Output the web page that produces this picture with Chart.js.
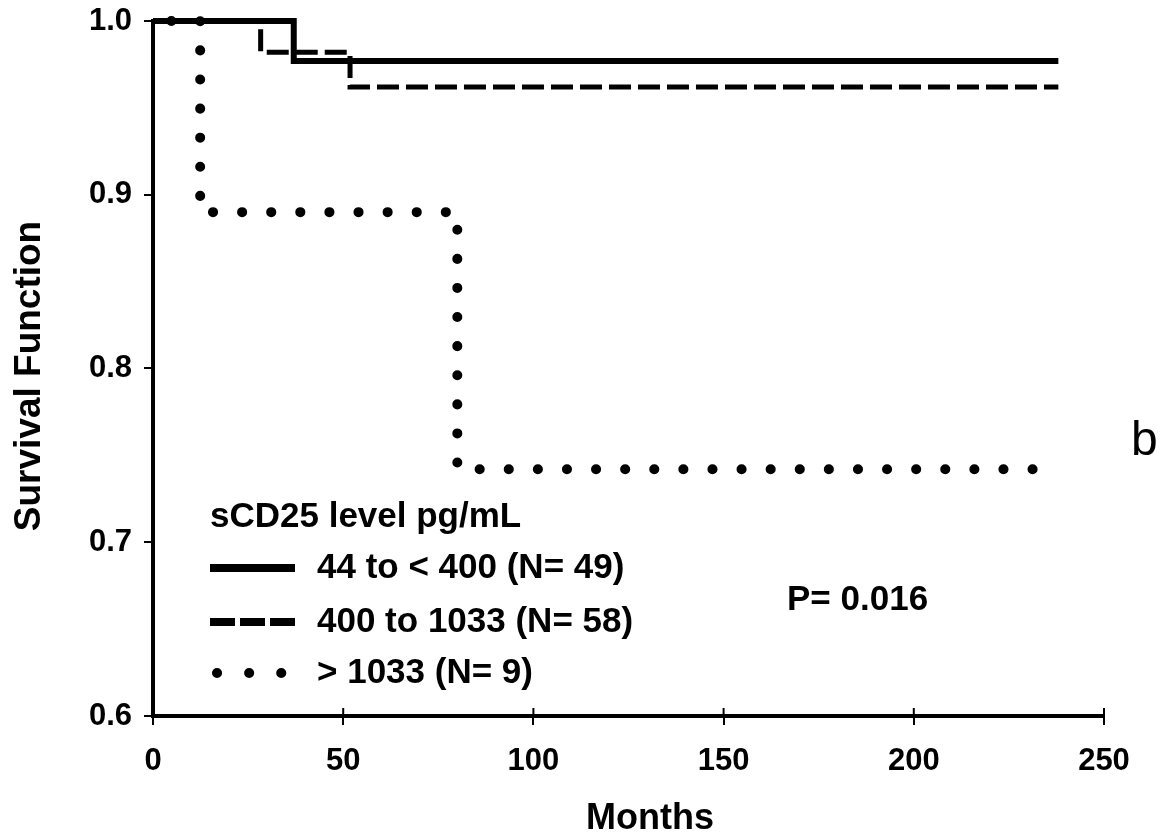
<!DOCTYPE html>
<html><head><meta charset="utf-8">
<script src="https://cdn.jsdelivr.net/npm/chart.js@4/dist/chart.umd.min.js"></script>
<style>html,body{margin:0;padding:0;background:#fff}#wrap{width:1168px;height:839px;position:relative}</style>
</head><body><div id="wrap"><canvas id="c" width="1168" height="839"></canvas></div>
<script>
const seriesNames = ['44 to < 400 (N= 49)', '400 to 1033 (N= 58)', '> 1033 (N= 9)'];
const lowMonths = [0, 37, 238];
const lowSurv = [1.0, 0.977, 0.977];
const midMonths = [0, 28.3, 51.8, 238];
const midSurv = [1.0, 0.982, 0.962, 0.962];
const highMonths = [0, 12.4, 80, 238];
const highSurv = [1.0, 0.890, 0.742, 0.742];
const xTicks = [0, 50, 100, 150, 200, 250];
const yTicks = [0.6, 0.7, 0.8, 0.9, 1.0];
const legendTitle = 'sCD25 level pg/mL';
const pValueText = 'P= 0.016';
const panelLabel = 'b';
const xTitle = 'Months';
const yTitle = 'Survival Function';

const FONT = '"Liberation Sans", Arial, sans-serif';
const pts = (xs, ys) => xs.map((x, i) => ({x: x, y: ys[i]}));

const overlay = {
  id: 'overlay',
  afterDraw(chart) {
    const ctx = chart.ctx;
    const xs = chart.scales.x, ys = chart.scales.y;
    ctx.save();
    // inner tick marks on x axis
    ctx.strokeStyle = '#000'; ctx.lineWidth = 2;
    const y0 = ys.getPixelForValue(0.6);
    xTicks.forEach(v => {
      const px = xs.getPixelForValue(v);
      ctx.beginPath(); ctx.moveTo(px, y0); ctx.lineTo(px, y0 - 8); ctx.stroke();
    });
    ctx.fillStyle = '#000';
    // axis titles
    ctx.font = 'bold 36px ' + FONT;
    ctx.textBaseline = 'middle';
    ctx.textAlign = 'center';
    ctx.fillText(xTitle, 650, 819);
    ctx.save();
    ctx.translate(30, 376);
    ctx.rotate(-Math.PI / 2);
    ctx.font = 'bold 37px ' + FONT;
    ctx.fillText(yTitle, 0, 0);
    ctx.restore();
    // legend
    ctx.font = 'bold 35px ' + FONT;
    ctx.textAlign = 'left';
    ctx.fillText(legendTitle, 210, 517);
    const rows = [568, 622, 673];
    const styles = [
      {w: 8, dash: [], cap: 'butt', x0: 210, x1: 295},
      {w: 8, dash: [25, 5], cap: 'butt', x0: 210, x1: 295},
      {w: 10, dash: [0.1, 32], cap: 'round', x0: 217, x1: 285}
    ];
    rows.forEach((ry, i) => {
      const s = styles[i];
      ctx.beginPath();
      ctx.lineWidth = s.w; ctx.setLineDash(s.dash); ctx.lineCap = s.cap;
      ctx.moveTo(s.x0, ry); ctx.lineTo(s.x1, ry); ctx.stroke();
      ctx.setLineDash([]);
      ctx.fillText(seriesNames[i], 317, ry);
    });
    ctx.fillText(pValueText, 787, 600);
    ctx.font = '48px ' + FONT;
    ctx.textBaseline = 'alphabetic';
    ctx.fillText(panelLabel, 1131, 455);
    ctx.restore();
  }
};

new Chart(document.getElementById('c'), {
  type: 'line',
  data: {
    datasets: [
      {label: seriesNames[0], data: pts(lowMonths, lowSurv), stepped: true,
       borderColor: '#000', borderWidth: 6, pointRadius: 0, clip: false},
      {label: seriesNames[1], data: pts(midMonths, midSurv), stepped: true,
       borderColor: '#000', borderWidth: 5, borderDash: [22, 7], pointRadius: 0, clip: false},
      {label: seriesNames[2], data: pts(highMonths, highSurv), stepped: true,
       borderColor: '#000', borderWidth: 10, borderDash: [0.1, 29], borderDashOffset: 10.8,
       borderCapStyle: 'round', pointRadius: 0, clip: false}
    ]
  },
  options: {
    responsive: false, animation: false, devicePixelRatio: 1,
    layout: {padding: {top: 21, right: 64, left: 0, bottom: 0}},
    plugins: {legend: {display: false}, tooltip: {enabled: false}},
    scales: {
      x: {
        type: 'linear', min: 0, max: 250,
        afterBuildTicks: s => { s.ticks = xTicks.map(v => ({value: v})); },
        afterFit: s => { s.height = 123; s.paddingLeft = 0; s.paddingRight = 0; },
        ticks: {color: '#000', font: {family: FONT, size: 31, weight: 'bold'}, padding: 18, maxRotation: 0},
        grid: {drawOnChartArea: false, color: '#000', lineWidth: 2, tickLength: 9},
        border: {color: '#000', width: 4},
        title: {display: false}
      },
      y: {
        type: 'linear', min: 0.6, max: 1.0,
        afterBuildTicks: s => { s.ticks = yTicks.map(v => ({value: v})); },
        afterFit: s => { s.width = 153; s.paddingTop = 0; s.paddingBottom = 0; },
        ticks: {color: '#000', font: {family: FONT, size: 31, weight: 'bold'}, padding: 12,
                callback: v => Number(v).toFixed(1)},
        grid: {drawOnChartArea: false, color: '#000', lineWidth: 2, tickLength: 9},
        border: {color: '#000', width: 4},
        title: {display: false}
      }
    }
  },
  plugins: [overlay]
});
</script></body></html>
